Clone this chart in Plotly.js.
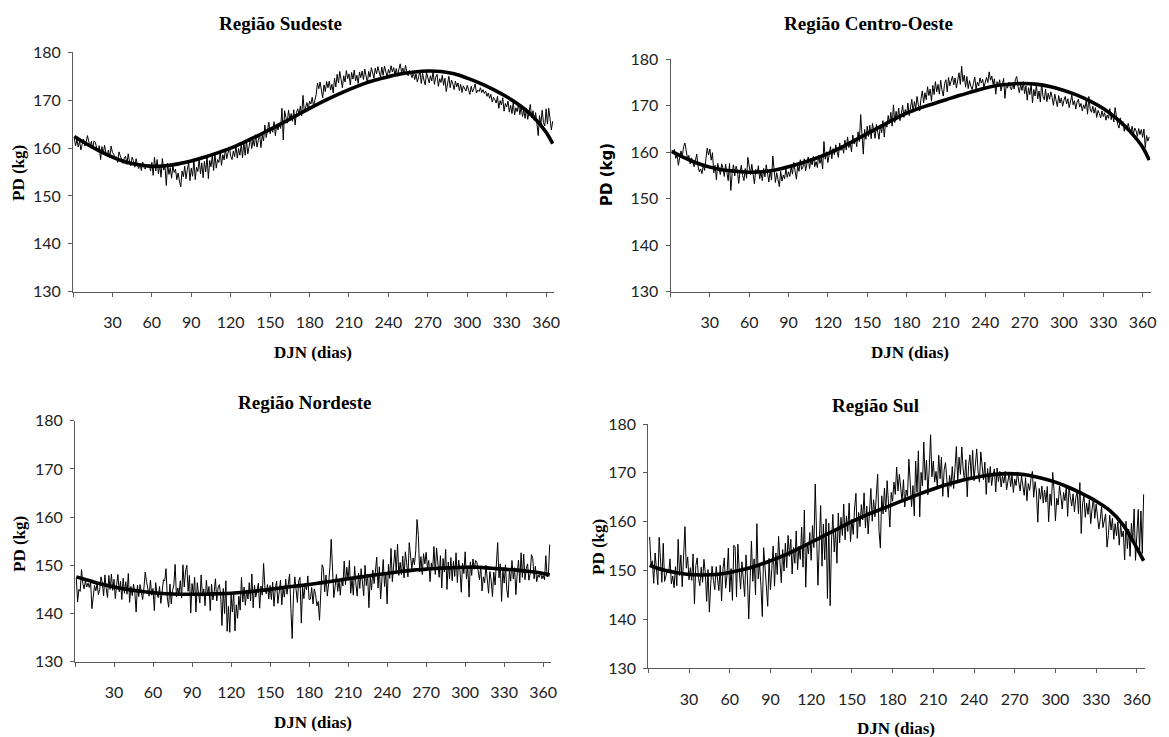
<!DOCTYPE html>
<html><head><meta charset="utf-8">
<script src="https://cdn.plot.ly/plotly-3.0.1.min.js"></script>
<style>html,body{margin:0;padding:0;background:#fff;} #chart{width:1169px;height:737px;}</style>
</head><body><div id="chart"></div>
<script>
// ---------- DATA ----------
const xTickVals = [0,30,60,90,120,150,180,210,240,270,300,330,360];
const xTickText = ['','30','60','90','120','150','180','210','240','270','300','330','360'];
const yTickVals = [130,140,150,160,170,180];

const fitDays = [1,10,20,30,40,50,60,70,80,90,100,110,120,130,140,150,160,170,180,190,200,210,220,230,240,250,260,270,280,290,300,310,320,330,340,350,360,365];

// Região Sudeste
const sudeste = [
162.0,160.5,161.8,160.2,161.5,159.6,160.8,161.9,160.4,161.2,
162.6,161.0,160.2,161.4,159.8,161.5,161.2,160.0,159.2,160.5,
157.6,160.3,158.8,160.6,159.0,158.4,159.6,158.0,160.4,159.1,
158.7,157.9,158.2,157.0,159.2,158.4,157.6,156.8,157.9,158.3,
156.6,158.8,157.2,156.3,158.1,157.4,156.0,157.8,156.5,155.7,
156.8,155.3,157.1,156.0,155.6,156.4,155.9,156.6,155.2,157.0,
154.3,158.1,155.2,157.6,154.6,156.5,153.9,157.8,155.4,156.2,
152.2,156.8,154.5,155.9,153.7,156.3,154.9,155.6,153.4,154.8,
153.1,151.9,155.2,154.0,156.2,153.6,155.5,157.0,153.2,155.8,
154.1,157.5,153.4,156.0,155.1,157.8,154.6,156.9,153.8,157.2,
155.0,158.3,153.6,157.4,156.1,158.5,155.3,158.9,155.8,157.6,
157.0,159.2,156.4,158.6,157.5,159.8,157.8,158.9,160.2,158.3,
157.6,159.4,158.2,160.6,157.9,159.9,158.5,160.9,158.0,161.2,
158.5,161.6,158.8,160.3,162.2,159.9,161.7,160.4,162.8,160.2,
161.3,163.0,160.1,162.7,161.5,164.8,162.2,163.6,165.4,163.0,
164.2,163.3,165.5,162.6,164.9,163.8,165.1,164.1,168.3,161.7,
167.8,166.4,165.2,167.9,166.0,167.2,165.6,168.0,164.8,167.4,
168.2,167.0,168.8,166.7,171.0,167.5,168.9,169.5,168.1,169.8,
169.2,170.6,168.8,169.9,171.1,173.6,172.4,173.8,172.0,170.5,
173.2,171.8,173.9,172.6,174.0,172.1,173.3,171.5,174.6,172.8,
175.4,173.6,176.0,174.2,172.6,175.1,173.8,176.2,174.5,175.5,
173.2,175.8,174.4,176.3,174.0,175.2,173.5,175.9,174.7,176.1,
174.3,176.5,175.0,173.6,176.0,174.8,176.8,175.3,174.6,176.7,
175.5,177.0,175.8,174.8,176.9,175.2,177.1,176.0,174.9,176.4,
175.6,177.2,175.9,176.8,175.3,176.6,175.0,176.5,177.6,175.8,
176.7,175.4,177.3,176.0,175.1,176.2,175.6,174.7,175.9,174.3,
175.5,173.8,174.9,176.2,173.5,175.6,174.2,173.2,175.8,174.6,
173.6,175.1,174.0,176.0,173.3,174.8,175.4,172.9,174.5,173.7,
175.2,173.1,174.6,171.8,173.9,175.0,172.6,174.2,173.4,172.2,
174.0,172.8,173.6,172.0,173.3,171.6,173.0,172.5,171.9,173.1,
172.3,171.2,172.9,171.7,172.4,173.4,171.5,172.1,171.8,172.6,
171.6,172.2,171.4,171.9,170.8,171.5,170.4,171.2,169.6,170.6,
170.1,169.4,170.8,168.3,169.9,169.0,170.5,167.7,169.3,168.6,
169.8,167.5,168.9,167.2,169.6,166.9,168.4,167.6,169.3,167.0,
168.7,166.6,167.9,166.2,168.3,166.0,167.5,169.1,166.3,167.8,
165.8,167.4,165.1,162.6,166.8,164.9,167.9,165.3,164.6,168.2,
165.0,168.3,166.1,163.8,165.6];
const sudesteFit = [162.4,160.9,159.4,158.1,157.1,156.5,156.2,156.3,156.7,157.3,158.1,159.0,160.0,161.2,162.5,163.9,165.3,166.8,168.3,169.7,171.0,172.2,173.3,174.2,174.9,175.5,175.9,176.1,176.0,175.5,174.6,173.5,172.2,170.7,168.9,166.6,163.3,160.9];

// Região Centro-Oeste
const centroOeste = [
160.4,159.8,160.6,158.7,159.5,157.2,158.9,160.3,159.1,161.2,
162.0,160.4,158.6,159.3,157.5,158.8,157.8,156.9,158.2,159.6,
157.0,155.8,156.4,155.4,157.3,156.1,158.6,160.9,159.4,160.7,
158.3,159.9,155.6,157.2,154.1,157.6,156.4,155.2,157.5,156.6,
154.8,157.4,155.7,153.9,157.6,151.8,155.4,157.3,154.9,157.0,
156.1,153.3,155.8,157.2,155.0,153.9,156.5,154.4,158.9,156.7,
155.2,157.4,154.6,153.2,156.3,155.4,157.1,154.3,155.8,153.9,
156.5,154.7,157.3,155.1,153.6,156.2,154.0,159.2,155.3,153.5,
155.6,154.2,152.6,155.9,153.8,155.1,154.3,156.5,154.6,155.8,
154.8,156.9,155.3,157.8,155.6,154.2,157.1,155.9,158.4,156.3,
156.8,158.6,156.0,157.4,159.0,156.5,158.2,157.3,159.1,156.9,
158.0,156.7,159.4,157.6,158.8,156.4,162.3,158.5,160.1,157.8,
159.3,161.2,158.6,160.8,159.5,161.6,160.2,158.9,162.0,160.4,
161.5,159.8,162.6,160.5,163.3,161.0,162.2,160.1,163.7,161.8,
163.0,161.2,164.4,162.3,168.1,163.5,159.6,164.9,162.8,165.6,
163.4,165.8,162.9,166.2,164.1,163.0,166.0,164.7,162.8,165.9,
164.2,166.8,163.3,166.5,165.4,167.9,166.1,168.6,165.6,170.2,
166.4,168.8,167.2,169.5,166.8,168.3,170.1,167.5,169.2,168.0,
170.6,167.9,169.8,171.4,168.6,170.9,169.4,172.0,170.2,168.9,
171.5,173.2,170.6,172.8,171.3,174.1,172.2,173.6,171.0,174.4,
172.4,175.2,173.0,174.6,172.5,175.5,173.4,172.1,174.8,175.6,
173.0,176.1,174.3,175.6,176.4,174.5,176.0,173.8,175.3,177.1,
174.6,178.5,175.2,176.6,174.0,176.3,173.7,175.4,174.2,173.5,
174.8,176.2,173.6,175.1,174.3,176.0,174.9,175.7,174.0,175.3,
176.1,175.0,177.3,175.5,176.4,174.6,175.8,172.5,175.2,174.1,
175.6,173.2,174.8,175.9,171.6,174.5,173.8,175.1,174.0,173.4,
174.9,173.6,175.7,176.3,174.1,172.8,174.6,173.3,175.2,172.6,
174.3,171.2,173.9,172.4,174.7,170.6,173.5,172.1,174.5,171.5,
173.2,170.8,174.9,172.0,171.3,173.6,170.9,172.7,171.4,173.0,
171.8,170.1,172.5,171.0,169.8,172.2,170.6,171.7,169.9,171.2,
172.0,170.4,171.5,169.6,170.9,172.3,170.2,171.1,169.3,170.8,
171.4,169.7,170.5,168.9,170.2,169.4,171.2,168.2,172.0,169.3,
168.6,169.9,168.4,169.6,167.5,169.0,168.3,167.4,168.9,167.7,
168.5,166.9,168.0,167.3,169.4,167.0,168.4,166.5,169.6,167.2,
166.0,165.2,167.4,165.8,166.6,164.5,165.9,164.8,166.2,165.0,
164.3,165.6,163.9,165.2,164.6,163.4,165.1,163.8,164.9,163.2,
165.0,161.0,163.6,162.4,163.3];
const centroOesteFit = [160.2,158.9,157.7,156.8,156.2,155.9,155.7,155.8,156.2,156.9,157.7,158.6,159.7,161.0,162.5,164.0,165.5,167.0,168.4,169.5,170.4,171.3,172.2,173.0,173.8,174.4,174.7,174.8,174.6,174.1,173.3,172.3,171.0,169.4,167.3,164.6,161.1,158.3];

// Região Nordeste
const nordeste = [
147.3,142.4,145.0,144.6,149.1,146.2,145.1,146.8,145.5,146.3,
145.4,146.6,141.0,144.3,145.8,144.7,146.1,143.9,145.0,147.6,
146.4,143.7,148.0,145.2,143.3,147.9,145.0,148.2,144.8,147.1,
143.1,146.0,148.1,144.5,146.7,142.9,147.3,144.2,146.6,144.0,
148.3,142.3,145.6,143.7,146.1,144.4,140.3,145.9,143.5,146.0,
144.6,142.9,145.3,148.6,146.7,145.4,143.6,146.9,143.8,145.2,
140.6,146.4,144.2,143.3,145.6,142.1,144.9,147.0,146.8,149.3,
143.2,141.3,146.1,142.0,144.7,145.9,150.2,143.5,145.3,144.1,
146.8,143.2,150.1,145.5,148.8,150.0,144.6,147.9,140.1,146.2,
143.8,147.5,140.3,146.4,144.1,142.2,148.0,143.6,145.1,141.6,
146.9,143.7,145.6,140.6,146.1,142.8,144.5,147.2,142.6,145.3,
146.0,143.9,137.5,145.2,140.0,146.8,136.3,141.5,136.1,143.9,
140.3,144.5,136.4,141.8,139.0,143.6,140.7,147.5,142.4,145.5,
141.7,144.9,143.0,146.4,142.6,148.2,141.2,145.9,143.4,144.6,
146.3,141.1,145.7,143.8,150.4,145.5,144.1,146.0,143.0,145.8,
142.9,146.5,141.5,145.0,146.7,142.1,144.6,146.9,141.8,145.2,
143.4,147.1,144.0,146.4,148.2,141.0,134.8,143.9,147.6,145.0,
142.3,146.8,147.5,138.0,145.5,143.1,146.3,144.9,147.8,142.9,
143.0,145.4,142.0,145.1,143.9,141.6,142.5,138.6,146.0,150.1,
149.4,144.5,148.0,143.6,146.2,149.6,155.4,146.9,143.3,145.6,
148.1,144.6,146.9,143.8,147.4,145.7,150.9,146.0,149.6,146.9,
151.0,144.2,147.3,143.8,149.8,146.1,143.6,148.4,145.2,149.3,
146.7,143.7,150.0,145.8,148.2,141.2,147.6,144.9,149.0,146.2,
148.8,151.7,145.3,149.7,143.0,147.9,151.2,145.6,148.4,142.0,
150.2,147.3,153.5,146.6,151.0,153.2,148.5,154.4,147.9,150.6,
148.1,151.9,147.4,152.8,150.5,147.6,154.7,152.2,149.3,151.5,
150.1,153.0,159.5,156.2,148.6,151.8,148.1,152.4,150.3,152.7,
149.4,151.0,146.6,150.5,149.0,153.9,148.1,153.6,150.2,147.5,
152.0,145.3,151.4,148.6,153.3,145.0,150.7,147.2,151.6,146.8,
150.9,147.7,152.6,146.4,151.1,149.0,144.4,150.4,148.3,152.8,
147.2,149.8,143.4,150.7,147.9,151.3,149.2,151.0,150.6,148.5,
147.0,149.9,144.7,147.6,146.4,150.0,147.3,144.2,148.7,146.9,
143.5,148.6,145.9,149.8,154.7,147.4,150.3,142.5,149.1,146.3,
150.1,145.0,143.3,148.9,146.7,151.0,147.2,149.5,143.9,148.2,
151.1,146.4,152.6,147.5,152.3,147.0,149.4,150.3,146.9,148.3,
152.2,151.4,147.2,149.8,146.6,148.0,147.5,148.5,147.2,147.9,
147.0,152.0,147.6,148.2,154.3];
const nordesteFit = [147.6,146.9,146.1,145.5,145.0,144.6,144.3,144.1,144.0,144.0,144.0,144.1,144.2,144.4,144.7,145.0,145.4,145.7,146.0,146.4,146.8,147.2,147.6,148.0,148.3,148.7,149.0,149.2,149.4,149.5,149.6,149.6,149.4,149.2,149.0,148.7,148.3,148.0];

// Região Sul
const sul = [
156.9,151.2,152.0,147.4,153.6,150.8,147.1,156.8,152.9,147.6,
155.6,147.8,148.9,150.3,149.5,152.4,147.3,148.9,146.5,150.8,
146.9,156.4,149.0,153.2,146.7,153.0,159.0,150.5,152.8,148.1,
150.6,148.0,153.4,143.2,151.0,152.6,148.4,146.9,150.7,147.6,
152.3,149.5,143.7,150.2,141.5,147.3,150.9,148.0,146.1,150.8,
147.7,145.9,151.1,143.8,150.3,152.6,146.4,149.1,154.6,145.6,
150.4,143.9,155.2,154.8,144.6,155.4,150.1,146.2,151.8,147.5,
144.7,153.2,148.9,140.1,149.6,156.0,147.8,152.4,145.0,159.6,
148.3,151.5,146.9,140.6,154.7,150.9,148.4,142.7,152.5,146.1,
150.3,155.0,146.8,153.6,149.2,157.0,151.8,147.5,154.3,149.9,
155.6,150.6,157.2,152.9,156.4,149.3,154.7,151.5,158.1,150.2,
155.0,152.3,158.9,150.7,162.4,146.6,155.6,153.4,157.8,152.1,
159.2,154.7,167.7,158.4,147.0,155.9,163.3,150.9,159.5,152.2,
160.6,144.3,159.7,142.8,156.1,161.5,153.8,158.2,151.5,161.8,
155.7,160.9,157.2,163.6,156.3,161.2,158.0,163.8,155.9,160.5,
157.4,162.8,165.8,156.6,161.9,159.0,163.5,160.4,165.9,158.7,
163.2,157.5,162.6,166.8,160.1,164.5,161.0,166.7,169.7,158.2,
154.6,165.3,161.6,166.9,162.0,168.4,163.1,158.9,166.0,164.2,
168.1,165.6,171.2,166.3,169.7,167.0,164.2,168.6,163.0,166.5,
165.2,172.8,168.8,163.1,167.4,161.2,172.4,166.0,174.5,161.0,
170.1,167.3,176.3,168.5,172.6,165.5,170.8,177.8,169.2,172.4,
168.1,170.3,167.0,173.6,168.8,173.2,165.2,170.6,172.1,167.9,
165.0,169.5,167.2,171.3,166.8,170.9,175.4,168.2,173.2,169.7,
175.3,170.8,168.3,172.7,165.1,171.5,173.7,169.0,174.6,168.4,
172.0,174.9,170.2,168.1,174.3,170.5,168.6,172.2,165.6,170.9,
168.0,171.3,167.4,169.6,170.8,166.1,171.0,168.2,170.3,167.1,
169.4,167.9,170.3,166.5,168.8,170.1,167.2,169.6,166.0,168.7,
167.4,170.2,168.1,166.3,169.4,167.6,165.4,169.0,164.3,167.8,
166.4,168.9,170.3,165.0,168.2,166.1,159.9,166.8,164.6,167.3,
163.8,166.5,164.0,167.2,160.0,165.7,163.3,170.1,166.4,160.2,
164.8,163.4,167.3,165.2,162.6,166.0,164.3,167.2,161.1,166.9,
164.6,163.2,165.7,162.0,164.9,166.1,161.6,168.0,157.6,163.7,
165.3,160.9,163.8,161.5,164.5,159.6,162.6,164.8,160.7,163.6,
161.0,158.5,160.4,163.1,158.8,159.9,161.6,154.8,157.2,161.3,
158.3,160.7,156.4,159.6,157.1,160.0,155.2,159.4,156.9,158.1,
152.2,160.1,154.5,158.5,152.9,159.7,156.0,162.6,152.1,157.3,
162.5,154.0,162.2,153.5,165.6];
const sulFit = [151.1,150.2,149.6,149.2,149.1,149.2,149.6,150.2,151.0,152.0,153.1,154.4,155.8,157.2,158.6,160.0,161.3,162.4,163.5,164.6,165.7,166.7,167.6,168.4,169.0,169.5,169.8,169.8,169.5,168.9,168.1,167.0,165.7,164.2,162.3,159.3,154.6,152.0];

// ---------- LAYOUT GEOMETRY (pixels in a 1169x737 page) ----------
const W = 1169, H = 737;
const panels = [
  {name:'Região Sudeste', data:sudeste, fit:sudesteFit, x0:73, x1:554, yTop:52.3, yBot:291.7,
   title:[280,24], xt:[313,352], yt:[19,173], ytSans:false},
  {name:'Região Centro-Oeste', data:centroOeste, fit:centroOesteFit, x0:670.5, x1:1150.5, yTop:59.3, yBot:291.7,
   title:[868,24], xt:[910,353], yt:[607,175], ytSans:true},
  {name:'Região Nordeste', data:nordeste, fit:nordesteFit, x0:75, x1:551, yTop:420.7, yBot:661.7,
   title:[305,403], xt:[313,722], yt:[19,544], ytSans:false},
  {name:'Região Sul', data:sul, fit:sulFit, x0:648.3, x1:1145, yTop:424, yBot:668.3,
   title:[875,405], xt:[896,728], yt:[598,547], ytSans:false}
];

const serif = '"Liberation Serif", "Times New Roman", Times, serif';
const sans = 'Lato, "Liberation Sans", Arial, sans-serif';
const axisCol = '#5a5a5a';

const traces = [];
const layout = {
  width: W, height: H, margin:{l:0,r:0,t:0,b:0},
  paper_bgcolor:'#fff', plot_bgcolor:'#fff', showlegend:false,
  annotations: []
};

panels.forEach((p, i) => {
  const k = i === 0 ? '' : String(i+1);
  const days = p.data.map((_, j) => j + 1);
  traces.push({x: days, y: p.data, xaxis:'x'+k, yaxis:'y'+k, type:'scatter', mode:'lines',
    line:{color:'#000', width:1}, hoverinfo:'skip'});
  traces.push({x: fitDays, y: p.fit, xaxis:'x'+k, yaxis:'y'+k, type:'scatter', mode:'lines',
    line:{color:'#000', width:3.6, shape:'spline', smoothing:1}, hoverinfo:'skip'});
  layout['xaxis'+k] = {
    domain:[p.x0/W, p.x1/W], range:[0,366], anchor:'y'+k,
    showgrid:false, zeroline:false, showline:true, linecolor:axisCol, linewidth:1,
    ticks:'outside', ticklen:4, tickwidth:1, tickcolor:axisCol,
    tickmode:'array', tickvals:xTickVals, ticktext:xTickText,
    tickfont:{family:sans, size:16, color:'#222'}, ticklabelstandoff:12, fixedrange:true
  };
  layout['yaxis'+k] = {
    domain:[1-p.yBot/H, 1-p.yTop/H], range:[130,180], anchor:'x'+k,
    showgrid:false, zeroline:false, showline:true, linecolor:axisCol, linewidth:1,
    ticks:'outside', ticklen:4, tickwidth:1, tickcolor:axisCol,
    tickmode:'array', tickvals:yTickVals,
    tickfont:{family:sans, size:16, color:'#222'}, ticklabelstandoff:4, fixedrange:true
  };
  layout.annotations.push({text:p.name, xref:'paper', yref:'paper',
    x:p.title[0]/W, y:1-p.title[1]/H, xanchor:'center', yanchor:'middle', showarrow:false,
    font:{family:serif, size:19, color:'#000', weight:'bold'}});
  layout.annotations.push({text:'DJN (dias)', xref:'paper', yref:'paper',
    x:p.xt[0]/W, y:1-p.xt[1]/H, xanchor:'center', yanchor:'middle', showarrow:false,
    font:{family:serif, size:17, color:'#000', weight:'bold'}});
  layout.annotations.push({text:'PD (kg)', xref:'paper', yref:'paper',
    x:p.yt[0]/W, y:1-p.yt[1]/H, xanchor:'center', yanchor:'middle', showarrow:false, textangle:-90,
    font:p.ytSans ? {family:'"DejaVu Sans", sans-serif', size:15, color:'#000', weight:'bold'}
                  : {family:serif, size:17, color:'#000', weight:'bold'}});
});

Plotly.newPlot('chart', traces, layout, {staticPlot:true, displayModeBar:false});
</script>
</body></html>
